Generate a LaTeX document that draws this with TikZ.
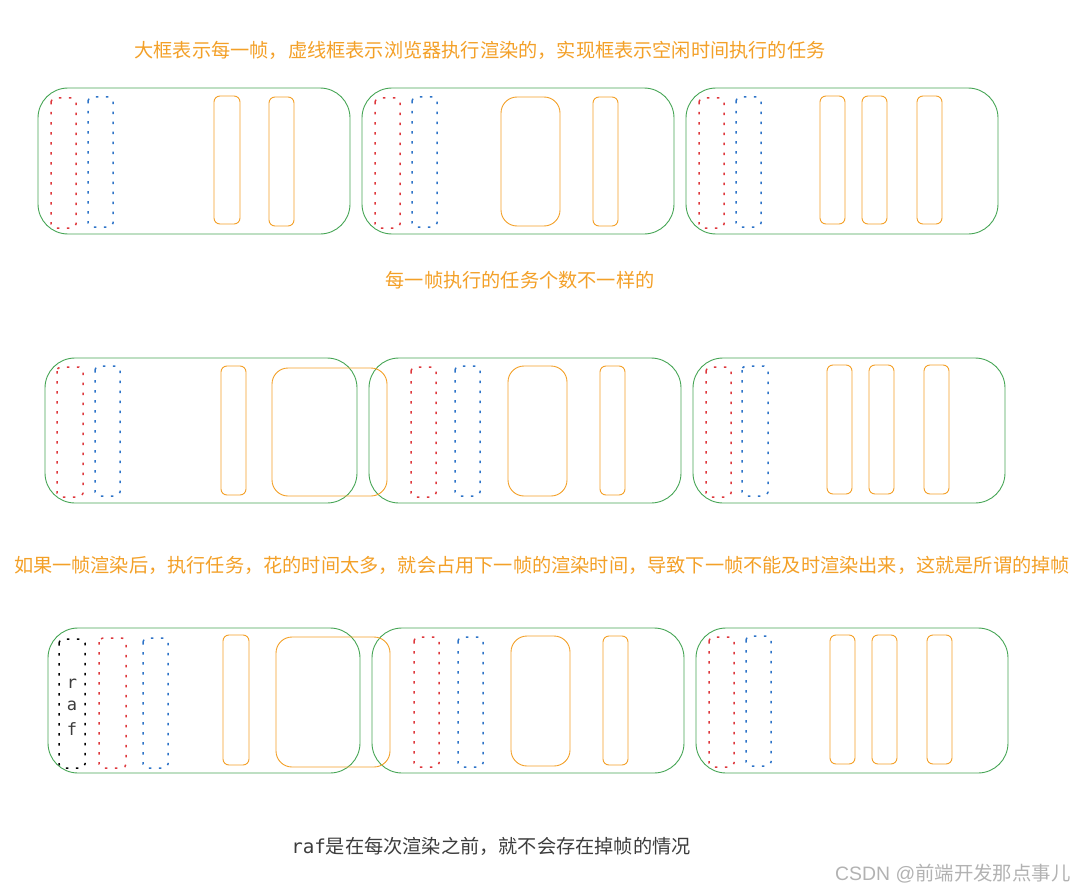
\documentclass[tikz,border=0pt]{standalone}
\usepackage{fontspec}
\usepackage{xcolor}
\usepackage{tikz}
\usetikzlibrary{positioning}
\newfontfamily\cjk{Noto Sans CJK SC}
\newfontfamily\codefont{DejaVu Sans Mono}
\newfontfamily\latinfont{Liberation Sans}

\definecolor{framegreen}{RGB}{70,165,85}
\definecolor{taskorange}{RGB}{243,160,40}
\definecolor{rendred}{RGB}{222,55,60}
\definecolor{rendblue}{RGB}{45,115,200}
\definecolor{notegray}{RGB}{60,60,60}

\tikzset{
  frame/.style={draw=framegreen, line width=0.9pt, rounded corners=30pt},
  task/.style={draw=taskorange, line width=0.9pt, rounded corners=6pt},
  bigtask/.style={draw=taskorange, line width=0.9pt, rounded corners=16pt},
  paint/.style={line width=1.5pt, dash pattern=on 2.5pt off 7.5pt, rounded corners=4pt},
  note/.style={text=taskorange, font=\cjk\fontsize{19.2}{22}\selectfont}
}

\begin{document}
\begin{tikzpicture}[x=1pt, y=-1pt]
		\useasboundingbox (0,0) rectangle (1080,891);
		
		% Title
		\node[note] (title) at (480,50) {大框表示每一帧，虚线框表示浏览器执行渲染的，实现框表示空闲时间执行的任务};
		
		% Row 1: every frame
		\foreach \dx in {0,324,648} {
			\draw[frame] (38+\dx,88) rectangle (350+\dx,234);
			\draw[paint, rendred] (51+\dx,98) rectangle (76+\dx,228);
			\draw[paint, rendblue] (88+\dx,97) rectangle (113+\dx,227);
		}
		\draw[task] (214,96) rectangle (240,224);
		\draw[task] (269,97) rectangle (294,226);
		\draw[bigtask] (501,97) rectangle (560,226);
		\draw[task] (593,97) rectangle (618,226);
		\draw[task] (820,96) rectangle (845,224);
		\draw[task] (862,96) rectangle (887,224);
		\draw[task] (917,96) rectangle (942,224);
		
		\node[note] (count) at (520,280) {每一帧执行的任务个数不一样的};
		
		% Row 2: long task runs into the next frame
		\foreach \dx in {0,324,648} {
			\draw[frame] (45+\dx,358) rectangle (357+\dx,503);
		}
		\draw[paint, rendred] (57,367) rectangle (83,497);
		\draw[paint, rendblue] (95,366) rectangle (120,496);
		\draw[task] (221,366) rectangle (246,495);
		\draw[bigtask] (272,368) rectangle (387,496);
		\draw[paint, rendred] (411,367) rectangle (436,497);
		\draw[paint, rendblue] (455,366) rectangle (480,496);
		\draw[bigtask] (508,366) rectangle (567,496);
		\draw[task] (600,366) rectangle (625,495);
		\draw[paint, rendred] (706,367) rectangle (731,497);
		\draw[paint, rendblue] (742,366) rectangle (768,496);
		\draw[task] (827,365) rectangle (852,494);
		\draw[task] (869,365) rectangle (894,494);
		\draw[task] (924,365) rectangle (949,494);
		
		\node[note] (drop) at (542,565) {如果一帧渲染后，执行任务，花的时间太多，就会占用下一帧的渲染时间，导致下一帧不能及时渲染出来，这就是所谓的掉帧};
		
		% Row 3: raf before the render
		\foreach \dx in {0,324,648} {
			\draw[frame] (48+\dx,628) rectangle (360+\dx,773);
		}
		\draw[paint, black] (59,639) rectangle (85,768);
		\node[font=\codefont\fontsize{17}{20}\selectfont, text=notegray] (rafr) at (72,684) {r};
		\node[font=\codefont\fontsize{17}{20}\selectfont, text=notegray] (rafa) at (72,706) {a};
		\node[font=\codefont\fontsize{17}{20}\selectfont, text=notegray] (raff) at (72,729) {f};
		\draw[paint, rendred] (99,638) rectangle (126,768);
		\draw[paint, rendblue] (143,638) rectangle (168,768);
		\draw[task] (223,635) rectangle (249,765);
		\draw[bigtask] (276,637) rectangle (390,767);
		\draw[paint, rendred] (414,637) rectangle (439,767);
		\draw[paint, rendblue] (458,637) rectangle (483,767);
		\draw[bigtask] (511,636) rectangle (570,766);
		\draw[task] (603,636) rectangle (628,765);
		\draw[paint, rendred] (709,637) rectangle (734,767);
		\draw[paint, rendblue] (746,636) rectangle (771,766);
		\draw[task] (830,635) rectangle (855,764);
		\draw[task] (872,635) rectangle (897,764);
		\draw[task] (927,635) rectangle (952,764);
		
		\node[text=notegray, font=\cjk\fontsize{19.2}{22}\selectfont] (rafnote) at (491,846) {{\codefont raf}是在每次渲染之前，就不会存在掉帧的情况};
		
		% Watermark
		\node[text=black!30, font=\cjk\fontsize{19.4}{22}\selectfont, anchor=east] (mark) at (1074,874) {{\latinfont CSDN @}前端开发那点事儿};
	\end{tikzpicture}
\end{document}
